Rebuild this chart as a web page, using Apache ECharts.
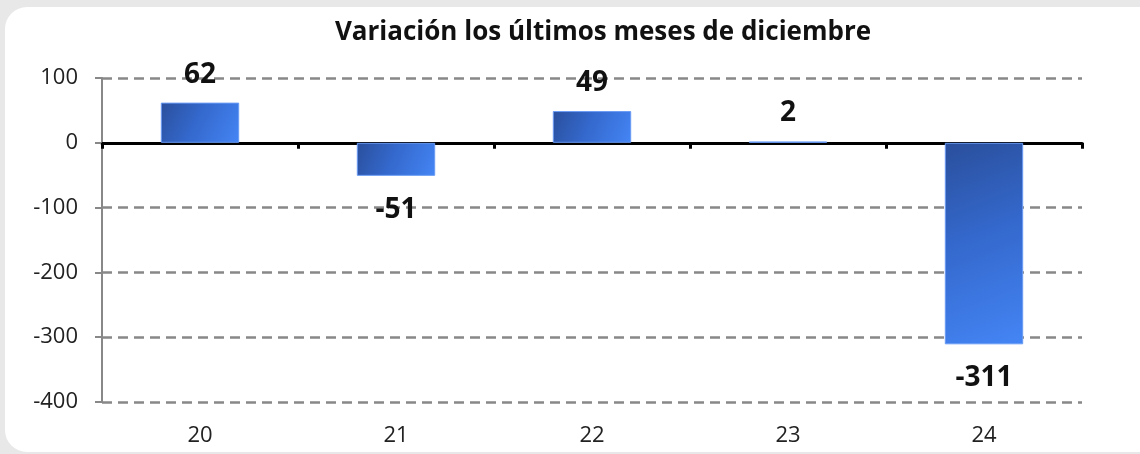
<!DOCTYPE html>
<html>
<head>
<meta charset="utf-8">
<script src="https://cdn.jsdelivr.net/npm/echarts@6/dist/echarts.min.js"></script>
<style>
  html, body { margin: 0; padding: 0; background: #e8e8e8; }
  #panel { position: absolute; left: 5px; top: 7px; width: 1160px; height: 445px; background: #ffffff; border-radius: 22px; }
  #chart { position: absolute; left: 0; top: 0; width: 1140px; height: 454px; }
</style>
</head>
<body>
<div id="panel"></div>
<div id="chart"></div>
<script>
const title = 'Variación los últimos meses de diciembre';
const categories = ['20', '21', '22', '23', '24'];
const values = [62, -51, 49, 2, -311];
const yTicks = { min: -400, max: 100, interval: 100 };

const chart = echarts.init(document.getElementById('chart'), null, { renderer: 'canvas' });
const font = '"Open Sans", "Noto Sans", sans-serif';

chart.setOption({
  backgroundColor: 'transparent',
  animation: false,
  title: {
    text: title,
    left: 598, top: 15, textAlign: 'center',
    textStyle: { fontFamily: font, fontWeight: 'bold', fontSize: 26, color: '#111' }
  },
  grid: { left: 102, right: 58, top: 78, bottom: 52, containLabel: false },
  xAxis: [
    {
      type: 'category', data: categories, position: 'bottom',
      axisLine: { show: false, onZero: false }, axisTick: { show: false },
      axisLabel: { fontFamily: font, fontSize: 22, color: '#222', margin: 23 }
    },
    {
      type: 'category', data: categories, position: 'bottom',
      axisLine: { show: true, onZero: true, lineStyle: { color: '#000', width: 3 } },
      axisTick: { show: true, inside: false, length: 6, lineStyle: { color: '#000', width: 3 } },
      axisLabel: { show: false }
    }
  ],
  yAxis: {
    type: 'value', min: yTicks.min, max: yTicks.max, interval: yTicks.interval,
    axisLine: { show: true, lineStyle: { color: '#888', width: 2 } },
    axisTick: { show: true, length: 7, lineStyle: { color: '#888', width: 2 } },
    axisLabel: { fontFamily: font, fontSize: 22, color: '#222', margin: 24 },
    splitLine: { show: true, lineStyle: { color: '#888', width: 2.5, type: [10, 6] } }
  },
  series: [{
    type: 'bar', xAxisIndex: 0,
    data: values.map(v => ({
      value: v,
      label: { position: v >= 0 ? 'top' : 'bottom', distance: v >= 0 ? 14 : 20 }
    })),
    barWidth: '40%',
    itemStyle: {
      color: new echarts.graphic.LinearGradient(0, 0, 1, 1, [
        { offset: 0, color: '#2a4f9c' },
        { offset: 0.45, color: '#3468cc' },
        { offset: 1, color: '#4485f5' }
      ]),
      borderColor: '#6a9cf5', borderWidth: 1
    },
    label: {
      show: true,
      fontFamily: font, fontWeight: 'bold', fontSize: 28, color: '#111',
      formatter: p => String(p.value)
    }
  }]
});
</script>
</body>
</html>
